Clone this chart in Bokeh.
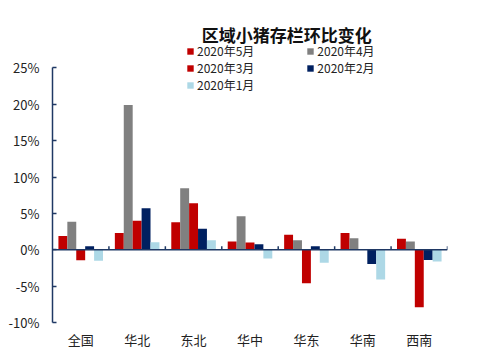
from bokeh.plotting import figure
from bokeh.models import Range1d, FixedTicker, Span, Legend, LegendItem, Label
from bokeh.embed import file_html
from bokeh.resources import INLINE
import numpy as np

regions = ["全国", "华北", "东北", "华中", "华东", "华南", "西南"]
series_names = ["2020年5月", "2020年4月", "2020年3月", "2020年2月", "2020年1月"]
may = [1.9, 2.3, 3.8, 1.15, 2.05, 2.3, 1.5]
apr = [3.85, 19.9, 8.45, 4.6, 1.3, 1.6, 1.15]
mar = [-1.45, 4.0, 6.4, 1.0, -4.6, 0.0, -7.9]
feb = [0.5, 5.7, 2.9, 0.75, 0.5, -1.95, -1.4]
jan = [-1.5, 1.05, 1.3, -1.2, -1.8, -4.1, -1.6]
series_values = [may, apr, mar, feb, jan]
colors = ["#C00000", "#808080", "#C00000", "#002060", "#ADD8E6"]
y_ticks = [-10, -5, 0, 5, 10, 15, 20, 25]
title_text = "区域小猪存栏环比变化"

FONT = "Noto Sans CJK SC"
AXIS_COLOR = "#1F3864"
TEXT_COLOR = "#222222"

# frame spans from the top (room for title + legend) down to -10%
y_top = 25 + 60 * 35 / 257
p = figure(width=485, height=351, output_backend="svg", toolbar_location=None,
           x_range=Range1d(0, len(regions)), y_range=Range1d(-10, y_top),
           min_border_left=52, min_border_right=38, min_border_top=8, min_border_bottom=26)
p.title.visible = False
p.outline_line_color = None
p.xgrid.visible = False
p.ygrid.visible = False

bw = 0.158
centers = np.arange(len(regions)) + 0.5
renderers = []
for i, (vals, c) in enumerate(zip(series_values, colors)):
    xs = centers + (i - 2) * bw
    r = p.vbar(x=xs, top=vals, bottom=0, width=bw, fill_color=c, line_color=None)
    renderers.append(r)

# zero line with category boundary ticks
p.add_layout(Span(location=0, dimension="width", line_color=AXIS_COLOR, line_width=1.5))
bounds = np.arange(1, len(regions) + 1)
p.segment(x0=bounds, x1=bounds, y0=[0] * len(bounds), y1=[0.5] * len(bounds),
          line_color=AXIS_COLOR, line_width=1.5)

# x axis: labels only
p.xaxis.ticker = FixedTicker(ticks=list(centers))
p.xaxis.major_label_overrides = {float(c): r for c, r in zip(centers, regions)}
p.xaxis.axis_line_color = None
p.xaxis.major_tick_line_color = None
p.xaxis.major_tick_in = 0
p.xaxis.major_tick_out = 0
p.xaxis.minor_tick_line_color = None
p.xaxis.major_label_text_font = FONT
p.xaxis.major_label_text_font_size = "13px"
p.xaxis.major_label_text_color = TEXT_COLOR
p.xaxis.major_label_standoff = 7

p.yaxis.ticker = FixedTicker(ticks=y_ticks)
p.yaxis.bounds = (min(y_ticks), max(y_ticks))
p.yaxis.major_label_overrides = {t: f"{t}%" for t in y_ticks}
p.yaxis.axis_line_color = AXIS_COLOR
p.yaxis.axis_line_width = 1.5
p.yaxis.major_tick_line_color = AXIS_COLOR
p.yaxis.major_tick_line_width = 1.5
p.yaxis.major_tick_in = 4
p.yaxis.major_tick_out = 0
p.yaxis.minor_tick_line_color = None
p.yaxis.major_label_text_font = FONT
p.yaxis.major_label_text_font_size = "13px"
p.yaxis.major_label_text_color = TEXT_COLOR
p.yaxis.major_label_standoff = 13

p.add_layout(Label(x=4.15, y=29.6, text=title_text, text_font=FONT, text_font_size="17px",
                   text_font_style="bold", text_align="center", text_baseline="middle",
                   text_color="#111111"))

rows = [[0, 1], [2, 3], [4]]
row_bottoms = [263, 246, 229]
for row, yb in zip(rows, row_bottoms):
    items = [LegendItem(label=series_names[k], renderers=[renderers[k]]) for k in row]
    lg = Legend(items=items, location=(134, yb), orientation="horizontal",
                label_text_font=FONT, label_text_font_size="12px", label_text_color=TEXT_COLOR,
                glyph_width=8, glyph_height=8, label_height=15, spacing=52,
                padding=0, margin=0, border_line_color=None, background_fill_alpha=0,
                label_standoff=3)
    p.add_layout(lg)

open("out.html", "w").write(file_html(p, INLINE))
